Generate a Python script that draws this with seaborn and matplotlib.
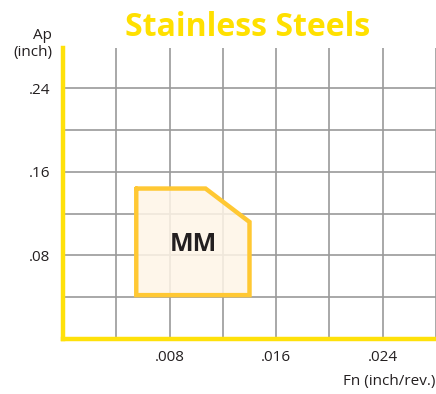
import matplotlib
matplotlib.use("Agg")
import matplotlib.pyplot as plt
import seaborn as sns
import pandas as pd

# Operating window for the MM chipbreaker on stainless steels (closed outline)
feed_x = [0.0055, 0.0107, 0.0140, 0.0140, 0.0055, 0.0055]
depth_y = [0.144, 0.144, 0.112, 0.042, 0.042, 0.144]
region_label = "MM"
label_pos = (0.0098, 0.0905)

x_grid = [0.004, 0.008, 0.012, 0.016, 0.020, 0.024, 0.028]
y_grid = [0.04, 0.08, 0.12, 0.16, 0.20, 0.24]
x_labeled = {0.008: ".008", 0.016: ".016", 0.024: ".024"}
y_labeled = {0.08: ".08", 0.16: ".16", 0.24: ".24"}

title = "Stainless Steels"
x_label = "Fn (inch/rev.)"
y_label = "Ap\n(inch)"

sns.set_style("white")
plt.rcParams["font.family"] = ["Open Sans", "DejaVu Sans"]

AXIS_YELLOW = "#FFE10A"
EDGE_GOLD = "#FFC833"
FILL_CREAM = "#FEF5E7"
GRID_GRAY = "#9A9A9A"
TEXT = "#231F20"

fig = plt.figure(figsize=(4.36, 3.94), dpi=100)
ax = fig.add_axes([63 / 436, 55 / 394, 373 / 436, 291 / 394])

ax.set_xlim(0, 0.028)
ax.set_ylim(0, 0.2785)

ax.set_xticks(x_grid)
ax.set_xticklabels([x_labeled.get(round(v, 3), "") for v in x_grid])
ax.set_yticks(y_grid)
ax.set_yticklabels([y_labeled.get(round(v, 2), "") for v in y_grid])
ax.grid(True, color=GRID_GRAY, linewidth=1.2)
ax.set_axisbelow(True)
ax.tick_params(length=0, labelsize=11, labelcolor=TEXT)
ax.tick_params(axis="x", pad=8)
ax.tick_params(axis="y", pad=9)

for side in ("top", "right"):
    ax.spines[side].set_visible(False)
for side in ("left", "bottom"):
    ax.spines[side].set_visible(True)
    ax.spines[side].set_color(AXIS_YELLOW)
    ax.spines[side].set_linewidth(3.2)
    ax.spines[side].set_zorder(5)

poly = pd.DataFrame({"fn": feed_x, "ap": depth_y})
ax.fill(poly["fn"], poly["ap"], facecolor=FILL_CREAM, alpha=0.85,
        edgecolor="none", zorder=3)
sns.lineplot(data=poly, x="fn", y="ap", sort=False, estimator=None, ax=ax,
             color=EDGE_GOLD, linewidth=3.2, zorder=4, legend=False)
for line in ax.get_lines():
    line.set_solid_joinstyle("miter")
ax.set_xlabel("")
ax.set_ylabel("")

ax.text(label_pos[0], label_pos[1], region_label, ha="center", va="center",
        fontsize=18, fontweight="bold", color=TEXT, zorder=6)

fig.text(248 / 436, 1 - 27 / 394, title, ha="center", va="center",
         fontsize=23, fontweight="bold", color="#FFE000")
fig.text(52 / 436, 1 - 44 / 394, y_label, ha="right", va="center",
         fontsize=11, color=TEXT, linespacing=1.1)
fig.text(435 / 436, 1 - 382 / 394, x_label, ha="right", va="center",
         fontsize=11, color=TEXT)

fig.savefig("out.png", dpi=100)
